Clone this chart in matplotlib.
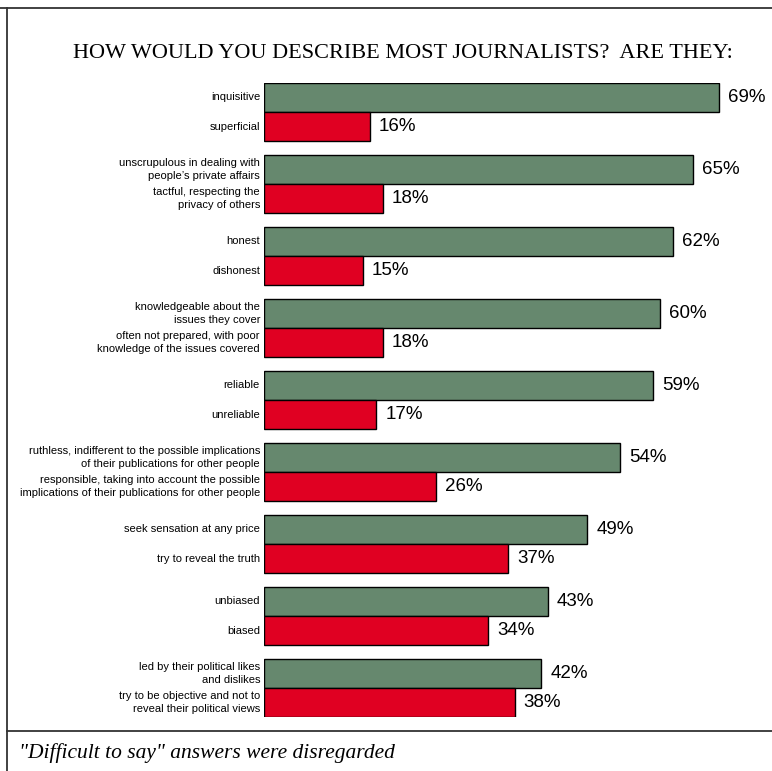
import matplotlib.pyplot as plt
from matplotlib.lines import Line2D
from matplotlib.transforms import blended_transform_factory

# Survey answers, each pair: first (green) vs second (red) description
labels_a = [
    "inquisitive",
    "unscrupulous in dealing with\npeople\u2019s private affairs",
    "honest",
    "knowledgeable about the\nissues they cover",
    "reliable",
    "ruthless, indifferent to the possible implications\nof their publications for other people",
    "seek sensation at any price",
    "unbiased",
    "led by their political likes\nand dislikes",
]
labels_b = [
    "superficial",
    "tactful, respecting the\nprivacy of others",
    "dishonest",
    "often not prepared, with poor\nknowledge of the issues covered",
    "unreliable",
    "responsible, taking into account the possible\nimplications of their publications for other people",
    "try to reveal the truth",
    "biased",
    "try to be objective and not to\nreveal their political views",
]
values_a = [69, 65, 62, 60, 59, 54, 49, 43, 42]
values_b = [16, 18, 15, 18, 17, 26, 37, 34, 38]

title = "HOW WOULD YOU DESCRIBE MOST JOURNALISTS?  ARE THEY:"
footnote = "\"Difficult to say\" answers were disregarded"

GREEN = "#66886e"
RED = "#e00022"

W, H = 772, 771
fig = plt.figure(figsize=(W / 100, H / 100), dpi=100)

# plot area in pixel units
left, right, top, bottom = 264, 772, 83, 717
ax = fig.add_axes([left / W, 1 - bottom / H, (right - left) / W, (bottom - top) / H])

pitch, bar_h = 72, 29
n = len(values_a)
ya = [i * pitch + bar_h / 2 for i in range(n)]
yb = [i * pitch + bar_h * 1.5 for i in range(n)]

ax.barh(ya, values_a, height=bar_h, color=GREEN, edgecolor="black", linewidth=1.0)
ax.barh(yb, values_b, height=bar_h, color=RED, edgecolor="black", linewidth=1.0)

px_per_pct = 6.6
ax.set_xlim(0, (right - left) / px_per_pct)
ax.set_ylim(bottom - top, 0)
ax.axis("off")

sans = ["Liberation Sans", "DejaVu Sans"]
trans = blended_transform_factory(fig.transFigure, ax.transData)
lx = (left - 4) / W
for y, v, lab in list(zip(ya, values_a, labels_a)) + list(zip(yb, values_b, labels_b)):
    ax.text(v + 9 / px_per_pct, y, f"{v}%", va="center", ha="left",
            fontsize=13.5, family=sans)
    ax.text(lx, y, lab, transform=trans, va="center", ha="right",
            fontsize=8, family=sans, linespacing=1.35)

serif = ["Liberation Serif", "DejaVu Serif"]
fig.text(403 / W, 1 - 53 / H, title, ha="center", va="center",
         fontsize=16, family=serif)
fig.text(19 / W, 1 - 753 / H, footnote, ha="left", va="center",
         fontsize=15.5, family=serif, style="italic")

# frame lines
fig.add_artist(Line2D([0, 1], [1 - 8 / H, 1 - 8 / H], color="#333333", lw=1.3))
fig.add_artist(Line2D([7 / W, 7 / W], [0, 1 - 8 / H], color="#333333", lw=1.3))
fig.add_artist(Line2D([7 / W, 1], [1 - 731 / H, 1 - 731 / H], color="#333333", lw=1.3))

fig.savefig("out.png", dpi=100)
